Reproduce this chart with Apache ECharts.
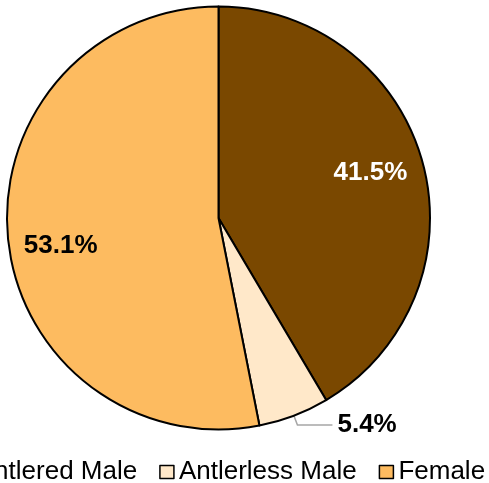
<!DOCTYPE html>
<html>
<head>
<meta charset="utf-8">
<script src="https://cdn.jsdelivr.net/npm/echarts@6/dist/echarts.min.js"></script>
<style>
  html, body { margin: 0; padding: 0; background: #fff; }
  #chart { width: 489px; height: 483px; }
</style>
</head>
<body>
<div id="chart"></div>
<script>
// 数据
var categories = ['Antlered Male', 'Antlerless Male', 'Female'];
var shares = [41.5, 5.4, 53.1];
var colors = ['#7A4800', '#FFE8C9', '#FDBB60'];
var labelColors = ['#ffffff', '#000000', '#000000'];
// 内部标签的微调
var labelOffsets = [[-4, -3], [0, 0], [3, 12]];

var FONT = '"Liberation Sans", Arial, sans-serif';
var center = [218.5, 218];
var R = 211.5;

var chart = echarts.init(document.getElementById('chart'));

var mainData = categories.map(function (name, i) {
  var item = {
    name: name,
    value: shares[i],
    itemStyle: { color: colors[i] },
    label: { show: false }
  };
  // 小扇区标签放在外面
  if (i === 1) {
    item.label = {
      show: true,
      position: 'outside',
      formatter: function (p) { return p.value.toFixed(1) + '%'; },
      color: '#000',
      fontSize: 26,
      fontWeight: 'bold',
      fontFamily: FONT,
      distanceToLabelLine: 5
    };
    item.labelLine = {
      show: true,
      length: 10,
      length2: 35,
      lineStyle: { color: '#a6a6a6', width: 1.5 }
    };
  }
  return item;
});

// 叠加一层透明饼图，用来把内部标签放到 3/4 半径处
var labelData = categories.map(function (name, i) {
  return {
    name: name,
    value: shares[i],
    label: {
      show: i !== 1,
      color: labelColors[i],
      offset: labelOffsets[i]
    }
  };
});

var option = {
  animation: false,
  legend: {
    left: -48,
    top: 454,
    width: 600,
    itemWidth: 14,
    itemHeight: 13,
    itemGap: 22,
    icon: 'rect',
    textStyle: { fontSize: 26, fontFamily: FONT, color: '#000' },
    data: categories.map(function (name, i) {
      return { name: name, itemStyle: { color: colors[i], borderColor: '#000', borderWidth: 1.5 } };
    })
  },
  series: [
    {
      type: 'pie',
      center: center,
      radius: [0, R],
      startAngle: 90,
      clockwise: true,
      avoidLabelOverlap: false,
      itemStyle: { borderColor: '#000', borderWidth: 2 },
      data: mainData
    },
    {
      type: 'pie',
      silent: true,
      center: center,
      radius: [R / 2, R],
      startAngle: 90,
      clockwise: true,
      legendHoverLink: false,
      avoidLabelOverlap: false,
      itemStyle: { color: 'rgba(0,0,0,0)', borderWidth: 0 },
      label: {
        position: 'inside',
        formatter: function (p) { return p.value.toFixed(1) + '%'; },
        fontSize: 26,
        fontWeight: 'bold',
        fontFamily: FONT
      },
      labelLine: { show: false },
      data: labelData
    }
  ]
};

chart.setOption(option);
</script>
</body>
</html>
